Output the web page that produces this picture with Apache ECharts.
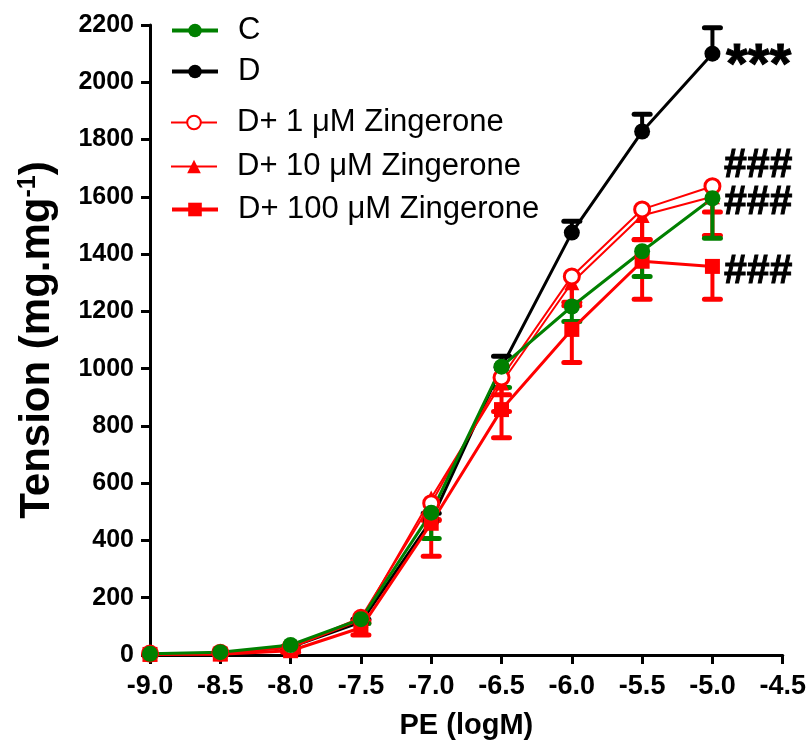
<!DOCTYPE html>
<html>
<head>
<meta charset="utf-8">
<script src="https://cdn.jsdelivr.net/npm/echarts@6/dist/echarts.min.js"></script>
<style>
    html, body { margin: 0; padding: 0; background: #fff; }
    #chart { width: 809px; height: 748px; }
</style>
</head>
<body>
<div id="chart"></div>
<script>
// PE concentrations (logM)
const doses = [-9.0, -8.5, -8.0, -7.5, -7.0, -6.5, -6.0, -5.5, -5.0];
const xTicks = [-9.0, -8.5, -8.0, -7.5, -7.0, -6.5, -6.0, -5.5, -5.0, -4.5];
const yTicks = [0, 200, 400, 600, 800, 1000, 1200, 1400, 1600, 1800, 2000, 2200];

// group means (mg.mg-1)
const cMean = [4, 10, 35, 125, 497, 1007, 1217, 1410, 1595];
const dMean = [3, 6, 28, 115, 470, 1005, 1475, 1828, 2100];
const z1Mean = [5, 8, 28, 130, 530, 969, 1322, 1556, 1637];
const z10Mean = [4, 6, 25, 122, 548, 950, 1300, 1535, 1600];
const z100Mean = [2, 3, 15, 95, 460, 857, 1137, 1375, 1357];

// SEM (one-sided bars, as drawn)
const cErr = [0, 0, 5, 15, 90, 73, 52, 88, 140];
const dErr = [0, 0, 0, 10, 25, 38, 40, 60, 90];
const z1Err = [0, 0, 5, 10, 60, 60, 90, 105, 90];
const z10Err = [0, 0, 5, 10, 75, 100, 80, 85, 135];
const z100Err = [0, 0, 5, 25, 115, 98, 116, 133, 115];

// significance marks at -5.0
const markText = ['***', '###', '###', '###'];
const markY = [2100, 1707, 1581, 1340];

const FONT = "'Liberation Sans', Arial, sans-serif";
const GREEN = '#008000';
const RED = '#ff0000';
const BLACK = '#000000';

const pairs = (ys) => doses.map((x, i) => [x, ys[i]]);

// [x, base, tip]; up = bar drawn above the mean
const errData = (ys, es, up) =>
    doses
        .map((x, i) => [x, ys[i], up ? ys[i] + es[i] : ys[i] - es[i], es[i]])
        .filter((d) => d[3] > 0);

const errSeries = (name, ys, es, up, color) => ({
    type: 'custom',
    name: name + ' err',
    data: errData(ys, es, up),
    clip: false,
    silent: true,
    renderItem: (params, api) => {
        const x = api.value(0);
        const base = api.coord([x, api.value(1)]);
        const tip = api.coord([x, api.value(2)]);
        const half = 8;
        return {
            type: 'group',
            children: [
                {
                    type: 'line',
                    shape: { x1: base[0], y1: base[1], x2: tip[0], y2: tip[1] },
                    style: { stroke: color, lineWidth: 4 },
                },
                {
                    type: 'line',
                    shape: { x1: tip[0] - half, y1: tip[1], x2: tip[0] + half, y2: tip[1] },
                    style: { stroke: color, lineWidth: 5, lineCap: 'round' },
                },
            ],
        };
    },
});

const lineSeries = (name, ys, opts) => ({
    type: 'line',
    name: name,
    data: pairs(ys),
    clip: false,
    symbol: opts.symbol,
    symbolSize: opts.size,
    lineStyle: { color: opts.color, width: opts.width },
    itemStyle: opts.itemStyle,
});

const legendRows = [
    { name: 'C', top: 15, width: 4 },
    { name: 'D', top: 56, width: 4 },
    { name: 'D+ 1 \u03bcM Zingerone', top: 107, width: 2 },
    { name: 'D+ 10 \u03bcM Zingerone', top: 151, width: 2 },
    { name: 'D+ 100 \u03bcM Zingerone', top: 194, width: 4 },
];

const option = {
    animation: false,
    textStyle: { fontFamily: FONT },
    grid: { left: 150, right: 26, top: 25, bottom: 93 },
    legend: legendRows.map((r) => ({
        data: [r.name],
        left: 170,
        top: r.top,
        padding: 0,
        itemWidth: 46,
        itemHeight: 17,
        selectedMode: false,
        lineStyle: { width: r.width },
        textStyle: { fontSize: 31, color: '#000', fontFamily: FONT, padding: [0, 0, 0, 15] },
    })),
    xAxis: {
        type: 'value',
        min: xTicks[0],
        max: xTicks[xTicks.length - 1],
        interval: 0.5,
        name: 'PE (logM)',
        nameLocation: 'middle',
        nameGap: 56,
        nameTextStyle: { fontSize: 29, fontWeight: 'bold', color: '#000', fontFamily: FONT },
        axisLine: { lineStyle: { color: BLACK, width: 3 } },
        axisTick: { length: 9, lineStyle: { color: BLACK, width: 3 } },
        axisLabel: {
            fontSize: 27,
            fontWeight: 'bold',
            color: '#000',
            margin: 18,
            formatter: (v) => v.toFixed(1),
        },
        splitLine: { show: false },
    },
    yAxis: {
        type: 'value',
        min: yTicks[0],
        max: yTicks[yTicks.length - 1],
        interval: 200,
        name: 'Tension (mg.mg{sup|-1})',
        nameLocation: 'middle',
        nameGap: 92,
        nameTextStyle: {
            fontSize: 42,
            fontWeight: 'bold',
            color: '#000',
            fontFamily: FONT,
            rich: {
                sup: { fontSize: 25, fontWeight: 'bold', verticalAlign: 'top', padding: [0, 0, 14, 0] },
            },
        },
        axisLine: { show: true, lineStyle: { color: BLACK, width: 3 } },
        axisTick: { show: true, length: 9, lineStyle: { color: BLACK, width: 3 } },
        axisLabel: {
            fontSize: 25,
            fontWeight: 'bold',
            color: '#000',
            margin: 16,
            formatter: (v) => String(v),
        },
        splitLine: { show: false },
    },
    series: [
        errSeries('D', dMean, dErr, true, BLACK),
        lineSeries('D', dMean, {
            symbol: 'circle', size: 16, color: BLACK, width: 3,
            itemStyle: { color: BLACK },
        }),
        errSeries('D+ 100 \u03bcM Zingerone', z100Mean, z100Err, false, RED),
        lineSeries('D+ 100 \u03bcM Zingerone', z100Mean, {
            symbol: 'rect', size: 15, color: RED, width: 3,
            itemStyle: { color: RED },
        }),
        errSeries('D+ 10 \u03bcM Zingerone', z10Mean, z10Err, false, RED),
        lineSeries('D+ 10 \u03bcM Zingerone', z10Mean, {
            symbol: 'triangle', size: 15, color: RED, width: 2,
            itemStyle: { color: RED },
        }),
        errSeries('D+ 1 \u03bcM Zingerone', z1Mean, z1Err, false, RED),
        lineSeries('D+ 1 \u03bcM Zingerone', z1Mean, {
            symbol: 'circle', size: 15, color: RED, width: 2,
            itemStyle: { color: '#fff', borderColor: RED, borderWidth: 3 },
        }),
        errSeries('C', cMean, cErr, false, GREEN),
        lineSeries('C', cMean, {
            symbol: 'circle', size: 16, color: GREEN, width: 3,
            itemStyle: { color: GREEN },
        }),
        {
            type: 'scatter',
            name: 'marks',
            symbolSize: 1,
            itemStyle: { color: 'transparent', opacity: 1 },
            silent: true,
            clip: false,
            data: markText.map((t, i) => ({
                value: [doses[doses.length - 1], markY[i]],
                label: {
                    show: true,
                    position: 'right',
                    distance: t === '***' ? 13 : 11,
                    formatter: t,
                    fontSize: t === '***' ? 56 : 41,
                    fontWeight: 'bold',
                    color: '#000',
                    opacity: 1,
                    textBorderColor: '#000',
                    textBorderWidth: 1,
                    fontFamily: FONT,
                    offset: t === '***' ? [0, 13] : [0, 0],
                },
            })),
        },
    ],
};

const myChart = echarts.init(document.getElementById('chart'));
myChart.setOption(option);
</script>
</body>
</html>
